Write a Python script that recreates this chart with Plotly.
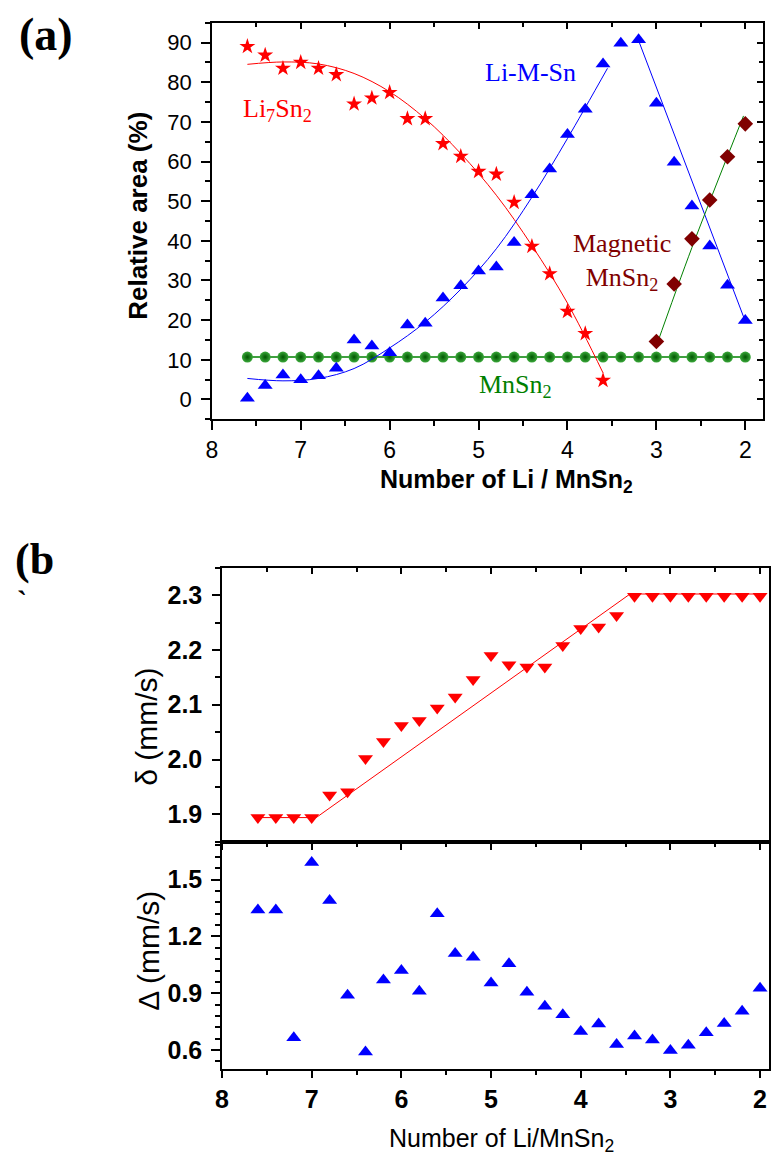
import plotly.graph_objects as go

W, H = 771, 1160

# ---------------- Panel (a) data ----------------
li7sn2_x = [7.6, 7.4, 7.2, 7.0, 6.8, 6.6, 6.4, 6.2, 6.0, 5.8, 5.6, 5.4, 5.2, 5.0, 4.8, 4.6, 4.4, 4.2, 4.0, 3.8, 3.6]
li7sn2_y = [89.0, 86.8, 83.5, 85.0, 83.5, 81.9, 74.5, 76.0, 77.4, 70.8, 70.8, 64.5, 61.3, 57.5, 56.8, 49.7, 38.6, 31.7, 22.2, 16.6, 4.8]

limsn_x = [7.6, 7.4, 7.2, 7.0, 6.8, 6.6, 6.4, 6.2, 6.0, 5.8, 5.6, 5.4, 5.2, 5.0, 4.8, 4.6, 4.4, 4.2, 4.0, 3.8, 3.6,
           3.4, 3.2, 3.0, 2.8, 2.6, 2.4, 2.2, 2.0]
limsn_y = [0.3, 3.5, 6.2, 5.0, 6.0, 7.9, 15.0, 13.5, 11.8, 18.8, 19.2, 25.6, 28.7, 32.4, 33.4, 39.6, 51.6, 58.1, 66.8, 73.2, 84.6,
           89.8, 90.7, 74.7, 59.8, 48.8, 38.7, 28.8, 19.9]

mag_x = [3.0, 2.8, 2.6, 2.4, 2.2, 2.0]
mag_y = [14.6, 29.1, 40.5, 50.3, 61.2, 69.5]

mnsn2_x = [7.6, 7.4, 7.2, 7.0, 6.8, 6.6, 6.4, 6.2, 6.0, 5.8, 5.6, 5.4, 5.2, 5.0, 4.8, 4.6, 4.4, 4.2, 4.0, 3.8, 3.6,
           3.4, 3.2, 3.0, 2.8, 2.6, 2.4, 2.2, 2.0]
mnsn2_y = [10.7] * 29

# fitted curves
fit_red_x = [7.6, 7.2, 6.8, 6.4, 6.0, 5.6, 5.2, 4.8, 4.4, 4.0, 3.6]
fit_red_y = [84.5, 85.1, 84.6, 82.2, 77.6, 70.8, 62.0, 51.5, 38.8, 24.3, 6.7]
fit_blue1_x = [7.6, 7.2, 6.8, 6.4, 6.0, 5.6, 5.2, 4.8, 4.4, 4.0, 3.55]
fit_blue1_y = [5.3, 4.7, 5.3, 7.8, 13.0, 19.5, 27.8, 38.0, 51.0, 65.8, 83.5]
fit_blue2_x = [3.2, 2.0]
fit_blue2_y = [90.5, 19.7]
fit_green_x = [3.0, 2.6, 2.02]
fit_green_y = [13.5, 38.3, 71.5]

# ---------------- Panel (b) data ----------------
delta_x = [7.6, 7.4, 7.2, 7.0, 6.8, 6.6, 6.4, 6.2, 6.0, 5.8, 5.6, 5.4, 5.2, 5.0, 4.8, 4.6, 4.4, 4.2, 4.0, 3.8, 3.6,
           3.4, 3.2, 3.0, 2.8, 2.6, 2.4, 2.2, 2.0]
delta_y = [1.894, 1.894, 1.894, 1.894, 1.935, 1.941, 2.002, 2.033, 2.062, 2.071, 2.094, 2.114, 2.146, 2.190, 2.173,
           2.169, 2.169, 2.208, 2.239, 2.242, 2.263, 2.298, 2.298, 2.298, 2.298, 2.298, 2.298, 2.298, 2.298]
delta_fit_x = [7.6, 6.95, 3.45, 2.0]
delta_fit_y = [1.894, 1.894, 2.302, 2.302]

qs_x = delta_x
qs_y = [1.34, 1.34, 0.665, 1.59, 1.39, 0.89, 0.59, 0.97, 1.02, 0.91, 1.32, 1.11, 1.09, 0.954, 1.055,
        0.905, 0.831, 0.786, 0.698, 0.737, 0.63, 0.674, 0.653, 0.598, 0.625, 0.691, 0.74, 0.805, 0.926]

# ---------------- helpers (pixel -> paper) ----------------
def px(x):
    return x / W

def py(y):
    return 1 - y / H

SANS = "Liberation Sans, Arial, sans-serif"
SERIF = "Liberation Serif, Times New Roman, serif"
RED = "#ff0000"
BLUE = "#0000ff"
GREEN = "#008000"
DKRED = "#800000"

fig = go.Figure()

# Panel (a)
fig.add_trace(go.Scatter(x=mnsn2_x, y=mnsn2_y, mode="lines+markers", xaxis="x", yaxis="y",
                         line=dict(color=GREEN, width=1.5),
                         marker=dict(symbol="circle", size=11, color="#3aa83a",
                                     gradient=dict(type="radial", color="#005500"),
                                     line=dict(width=0))))
fig.add_trace(go.Scatter(x=fit_red_x, y=fit_red_y, mode="lines", xaxis="x", yaxis="y",
                         line=dict(color=RED, width=1, shape="spline")))
fig.add_trace(go.Scatter(x=fit_blue1_x, y=fit_blue1_y, mode="lines", xaxis="x", yaxis="y",
                         line=dict(color=BLUE, width=1, shape="spline")))
fig.add_trace(go.Scatter(x=fit_blue2_x, y=fit_blue2_y, mode="lines", xaxis="x", yaxis="y",
                         line=dict(color=BLUE, width=1)))
fig.add_trace(go.Scatter(x=fit_green_x, y=fit_green_y, mode="lines", xaxis="x", yaxis="y",
                         line=dict(color=GREEN, width=1, shape="spline")))
fig.add_trace(go.Scatter(x=li7sn2_x, y=li7sn2_y, mode="markers", xaxis="x", yaxis="y",
                         marker=dict(symbol="star", size=12, color=RED, line=dict(width=0))))
fig.add_trace(go.Scatter(x=limsn_x, y=limsn_y, mode="markers", xaxis="x", yaxis="y",
                         marker=dict(symbol="triangle-up", size=13, color=BLUE, line=dict(width=0))))
fig.add_trace(go.Scatter(x=mag_x, y=mag_y, mode="markers", xaxis="x", yaxis="y",
                         marker=dict(symbol="diamond", size=12, color=DKRED, line=dict(width=0))))
# overlay for inside ticks on top/right of panel (a)
fig.add_trace(go.Scatter(x=[None], y=[None], xaxis="x2", yaxis="y2", mode="markers", hoverinfo="skip"))

# Panel (b) upper
fig.add_trace(go.Scatter(x=delta_fit_x, y=delta_fit_y, mode="lines", xaxis="x3", yaxis="y3",
                         line=dict(color=RED, width=1)))
fig.add_trace(go.Scatter(x=delta_x, y=delta_y, mode="markers", xaxis="x3", yaxis="y3",
                         marker=dict(symbol="triangle-down", size=13, color=RED, line=dict(width=0))))
fig.add_trace(go.Scatter(x=[None], y=[None], xaxis="x4", yaxis="y4", mode="markers", hoverinfo="skip"))

# Panel (b) lower
fig.add_trace(go.Scatter(x=qs_x, y=qs_y, mode="markers", xaxis="x5", yaxis="y5",
                         marker=dict(symbol="triangle-up", size=13, color=BLUE, line=dict(width=0))))

axis_common = dict(showgrid=False, zeroline=False, showline=True, linecolor="black", linewidth=1.5,
                   tickcolor="black", tickwidth=1.5, ticklabeloverflow="allow")

xa_dom = [px(206.7), px(763)]
ya_dom = [py(419.3), py(22.7)]
xb_dom = [px(217), px(769)]
yb1_dom = [py(841.7), py(567.7)]
yb2_dom = [py(1069), py(841.7)]

fig.update_layout(
    width=W, height=H, autosize=False,
    margin=dict(l=0, r=0, t=0, b=0),
    paper_bgcolor="white", plot_bgcolor="white",
    showlegend=False,
    xaxis=dict(axis_common, domain=xa_dom, anchor="y", range=[8, 1.8], tickvals=[8, 7, 6, 5, 4, 3, 2],
               ticks="outside", ticklen=9, mirror=True, ticklabelstandoff=0,
               minor=dict(dtick=0.5, tick0=0, ticks="outside", ticklen=5, tickcolor="black", tickwidth=1.5),
               tickfont=dict(family=SANS, size=23, color="black")),
    yaxis=dict(axis_common, domain=ya_dom, anchor="x", range=[-5, 95], tickvals=list(range(0, 91, 10)),
               ticks="outside", ticklen=9, mirror=True, ticklabelstandoff=5,
               minor=dict(dtick=5, tick0=0, ticks="outside", ticklen=5, tickcolor="black", tickwidth=1.5),
               tickfont=dict(family=SANS, size=22, color="black")),
    xaxis2=dict(showgrid=False, zeroline=False, showline=False, overlaying="x", anchor="y2", side="top",
                range=[8, 1.8], tickvals=[8, 7, 6, 5, 4, 3, 2], ticks="inside", ticklen=6,
                tickcolor="black", tickwidth=1.5, showticklabels=False,
                minor=dict(dtick=0.5, tick0=0, ticks="inside", ticklen=4, tickcolor="black", tickwidth=1.5)),
    yaxis2=dict(showgrid=False, zeroline=False, showline=False, overlaying="y", anchor="x2", side="right",
                range=[-5, 95], tickvals=list(range(0, 91, 10)), ticks="inside", ticklen=6,
                tickcolor="black", tickwidth=1.5, showticklabels=False,
                minor=dict(dtick=5, tick0=0, ticks="inside", ticklen=4, tickcolor="black", tickwidth=1.5)),
    xaxis3=dict(axis_common, domain=xb_dom, anchor="y3", range=[8, 1.9], tickvals=[8, 7, 6, 5, 4, 3, 2],
                ticks="outside", ticklen=7, mirror=True, showticklabels=False,
                minor=dict(dtick=0.5, tick0=0, ticks="outside", ticklen=4, tickcolor="black", tickwidth=1.5)),
    yaxis3=dict(axis_common, domain=yb1_dom, anchor="x3", range=[1.85, 2.35],
                tickvals=[1.9, 2.0, 2.1, 2.2, 2.3], tickformat=".1f",
                ticks="outside", ticklen=8, mirror=True, ticklabelstandoff=5,
                minor=dict(dtick=0.05, tick0=1.9, ticks="outside", ticklen=5, tickcolor="black", tickwidth=1.5),
                tickfont=dict(family=SANS, size=25, color="black", weight="bold")),
    xaxis4=dict(showgrid=False, zeroline=False, showline=False, overlaying="x3", anchor="y4", side="top",
                range=[8, 1.9], tickvals=[8, 7, 6, 5, 4, 3, 2], ticks="inside", ticklen=6,
                tickcolor="black", tickwidth=1.5, showticklabels=False,
                minor=dict(dtick=0.5, tick0=0, ticks="inside", ticklen=4, tickcolor="black", tickwidth=1.5)),
    yaxis4=dict(showgrid=False, zeroline=False, showline=False, overlaying="y3", anchor="x4", side="right",
                range=[1.85, 2.35], ticks="", showticklabels=False),
    xaxis5=dict(axis_common, domain=xb_dom, anchor="y5", range=[8, 1.9], tickvals=[8, 7, 6, 5, 4, 3, 2],
                ticks="outside", ticklen=7, mirror=True,
                minor=dict(dtick=0.5, tick0=0, ticks="outside", ticklen=4, tickcolor="black", tickwidth=1.5),
                tickfont=dict(family=SANS, size=25, color="black", weight="bold")),
    yaxis5=dict(axis_common, domain=yb2_dom, anchor="x5", range=[0.5, 1.7],
                tickvals=[0.6, 0.9, 1.2, 1.5], tickformat=".1f",
                ticks="outside", ticklen=9, mirror=True, ticklabelstandoff=4,
                minor=dict(dtick=0.06, tick0=0.6, ticks="outside", ticklen=5, tickcolor="black", tickwidth=1.5),
                tickfont=dict(family=SANS, size=25, color="black", weight="bold")),
)

ann = []
def text(x, y, t, size, color="black", family=SANS, bold=False, angle=0, xanchor="center", yanchor="middle"):
    ann.append(dict(x=px(x), y=py(y), xref="paper", yref="paper", text=t, showarrow=False,
                    textangle=angle, xanchor=xanchor, yanchor=yanchor,
                    font=dict(family=family, size=size, color=color, weight="bold" if bold else "normal")))

# panel labels
text(39, 35, "(a)", 46, family=SERIF, bold=True)
text(28, 559, "(b", 44, family=SERIF, bold=True)
text(15, 600, "`", 30, family=SERIF, bold=True)

# panel (a) axis titles
text(132, 216, "Relative area (%)", 26, bold=True, angle=-90)
text(504, 481, "Number of Li / MnSn<sub>2</sub>", 25, bold=True)

# panel (a) in-plot labels
text(236, 110, "Li<sub>7</sub>Sn<sub>2</sub>", 26, color=RED, family=SERIF, xanchor="left")
text(480, 72, "Li-M-Sn", 26, color=BLUE, family=SERIF, xanchor="left")
text(621, 262, "Magnetic<br>MnSn<sub>2</sub>", 26, color=DKRED, family=SERIF)
text(474, 386, "MnSn<sub>2</sub>", 26, color=GREEN, family=SERIF, xanchor="left")

# panel (b) axis titles
text(141, 727, "\u03b4 (mm/s)", 30, angle=-90)
text(142, 951, "\u0394 (mm/s)", 30, angle=-90)
text(499, 1140, "Number of Li/MnSn<sub>2</sub>", 25)

fig.update_layout(annotations=ann)

fig.write_html("out.html", config={"displayModeBar": False},
               post_script="document.body.style.margin='0';document.body.style.overflow='hidden';")
